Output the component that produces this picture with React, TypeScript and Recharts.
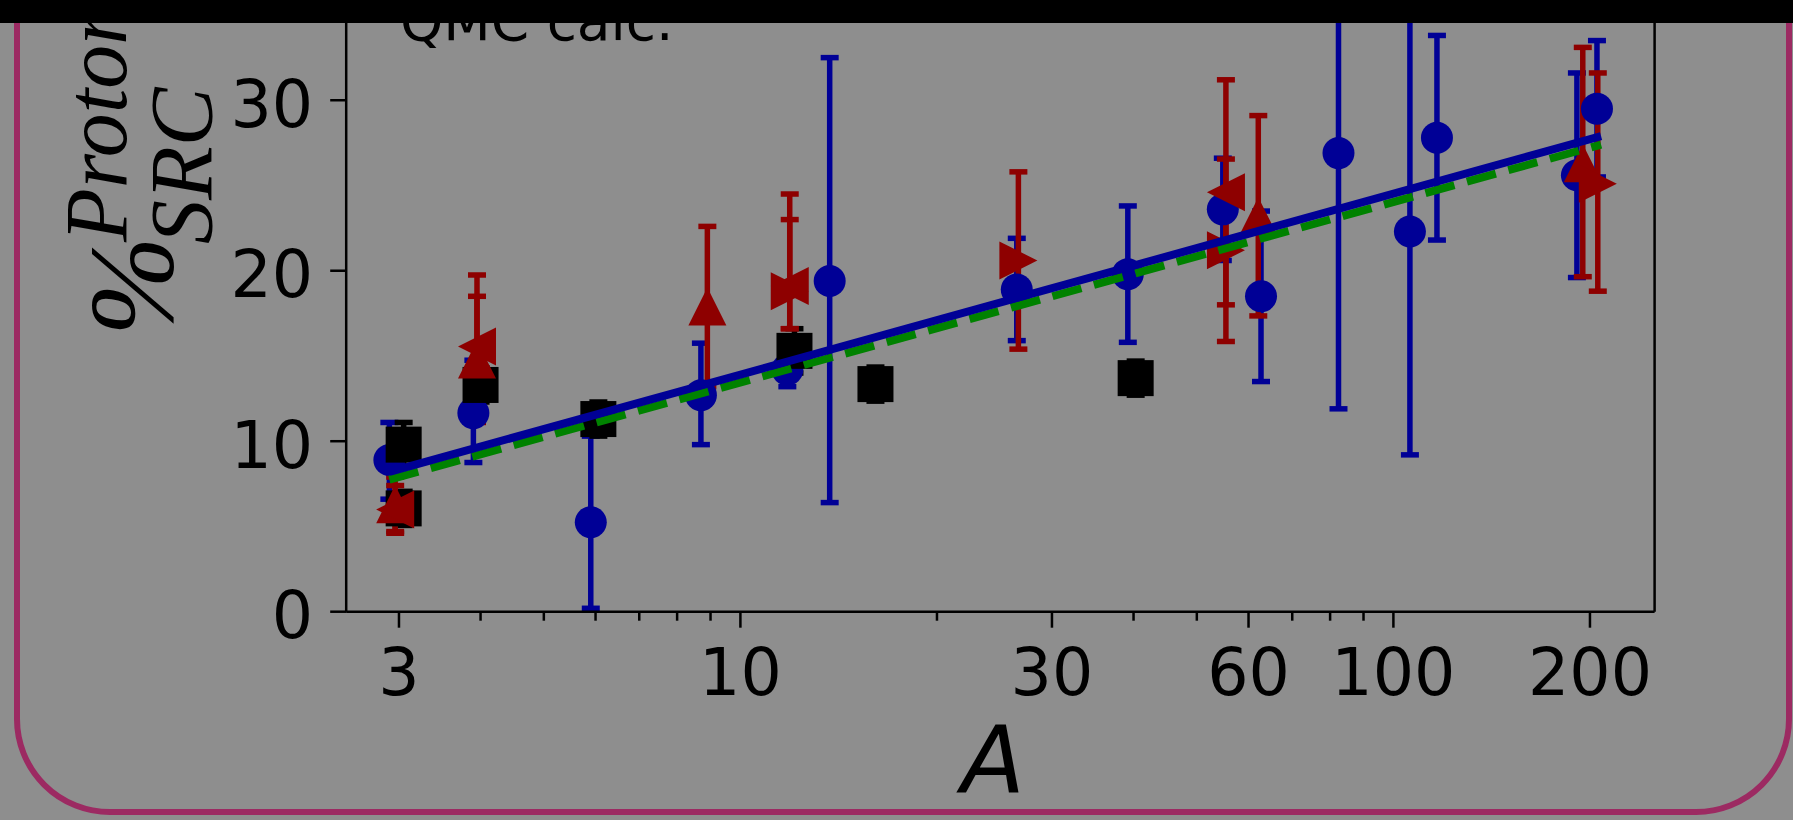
import React from "react";
import { ComposedChart, Scatter, XAxis, YAxis, ErrorBar, ReferenceLine } from "recharts";

// blue circles
const blueA = [2.9, 3.9, 5.9, 8.7, 11.8, 13.7, 26.5, 39.2, 54.8, 62.7, 82.4, 106, 116.6, 191, 205];
const blueY = [8.9, 11.65, 5.25, 12.7, 14.2, 19.4, 18.9, 19.8, 23.6, 18.5, 26.9, 22.3, 27.8, 25.6, 29.5];
const blueLo = [2.3, 2.9, 5.05, 2.9, 1.0, 13.0, 3.0, 4.0, 3.0, 5.0, 15.0, 13.1, 6.0, 6.0, 4.0];
const blueHi = [2.2, 3.1, 5.05, 3.05, 1.0, 13.1, 3.0, 4.0, 3.0, 5.0, 15.0, 13.1, 6.0, 6.0, 4.0];

// black squares
const blackA = [3.05, 3.05, 4.0, 6.06, 12.1, 16.1, 40.3];
const blackY = [9.8, 6.06, 13.3, 11.3, 15.3, 13.35, 13.7];
const blackErr = [1.3, 1.0, 1.0, 1.0, 1.3, 1.0, 1.0];

// red up triangles
const upA = [2.96, 3.95, 8.9, 62.1, 195];
const upY = [6.3, 14.8, 17.9, 23.2, 26.3];
const upLo = [1.6, 3.7, 4.7, 5.85, 6.65];
const upHi = [1.6, 3.7, 4.7, 5.9, 6.8];

// red left triangles
const leftA = [2.96, 3.95, 11.9, 55.4];
const leftY = [6.0, 15.55, 19.1, 24.6];
const leftLo = [1.4, 4.2, 2.5, 6.6];
const leftHi = [1.4, 4.2, 5.4, 6.6];

// red right triangles
const rightA = [11.9, 26.65, 55.4, 205.6];
const rightY = [18.8, 20.6, 21.2, 25.1];
const rightLo = [2.2, 5.2, 5.35, 6.3];
const rightHi = [4.2, 5.2, 5.35, 6.5];

// fits
const fitA = [2.9, 208];
const fitBlue = [8.2, 27.9];
const fitGreen = [7.75, 27.4];

const xTicks = [3, 4, 5, 6, 7, 8, 9, 10, 20, 30, 40, 50, 60, 70, 80, 90, 100, 200];
const xMajor = [3, 10, 30, 60, 100, 200];
const yTicks = [0, 10, 20, 30];

const BLUE = "#000096";
const RED = "#8e0000";
const GREEN = "#008200";
const BG = "#8e8e8e";
const FONT = "DejaVu Sans";

const pts = (a: number[], y: number[], lo: number[], hi: number[]) =>
  a.map((A, i) => ({ A, y: y[i], e: [lo[i], hi[i]] }));

const blueData = pts(blueA, blueY, blueLo, blueHi);
const blackData = pts(blackA, blackY, blackErr, blackErr);
const upData = pts(upA, upY, upLo, upHi);
const leftData = pts(leftA, leftY, leftLo, leftHi);
const rightData = pts(rightA, rightY, rightLo, rightHi);
const blueFit = fitA.map((A, i) => ({ A, y: fitBlue[i] }));
const greenFit = fitA.map((A, i) => ({ A, y: fitGreen[i] }));

const Dot = (p: any) => <circle cx={p.cx} cy={p.cy} r={16} fill={BLUE} />;
const Sq = (p: any) => <rect x={p.cx - 18} y={p.cy - 18} width={36} height={36} fill="#000" />;
const TriUp = (p: any) => (
  <polygon points={`${p.cx},${p.cy - 19} ${p.cx - 19},${p.cy + 19} ${p.cx + 19},${p.cy + 19}`} fill={RED} />
);
const TriLeft = (p: any) => (
  <polygon points={`${p.cx - 19},${p.cy} ${p.cx + 19},${p.cy - 19} ${p.cx + 19},${p.cy + 19}`} fill={RED} />
);
const TriRight = (p: any) => (
  <polygon points={`${p.cx + 19},${p.cy} ${p.cx - 19},${p.cy - 19} ${p.cx - 19},${p.cy + 19}`} fill={RED} />
);
const NoDot = () => <g />;

const XTick = ({ x, y, payload }: any) => {
  const major = xMajor.includes(payload.value);
  return (
    <g>
      <line x1={x} x2={x} y1={y} y2={y + (major ? 16 : 9)} stroke="#000" strokeWidth={2.5} />
      {major && (
        <text x={x} y={y + 83} textAnchor="middle" fontSize={65} fontFamily={FONT} fill="#000">
          {payload.value}
        </text>
      )}
    </g>
  );
};

const YTick = ({ x, y, payload }: any) => (
  <text x={x} y={y + 26.5} textAnchor="end" fontSize={65} fontFamily={FONT} fill="#000">
    {payload.value}
  </text>
);

export default function App() {
  const eb = (color: string) => (
    <ErrorBar dataKey="e" direction="y" width={9} strokeWidth={5.5} stroke={color} />
  );
  return (
    <div style={{ position: "absolute", left: 0, top: 0, width: 1793, height: 820, background: BG, overflow: "hidden" }}>
      <div
        style={{
          position: "absolute",
          left: 14,
          top: -100,
          width: 1778,
          height: 915,
          boxSizing: "border-box",
          border: "6px solid #9c2a62",
          borderRadius: 96,
        }}
      />
      <div style={{ position: "absolute", left: 0, top: 0 }}>
        <ComposedChart width={1793} height={820} margin={{ top: 15, right: 138.4, bottom: 88.3, left: 246.2 }}>
          <XAxis
            dataKey="A"
            type="number"
            scale="log"
            domain={[2.4906, 251.2]}
            allowDataOverflow
            ticks={xTicks}
            interval={0}
            height={120}
            tickSize={0}
            tickMargin={0}
            tickLine={false}
            tick={<XTick />}
            axisLine={{ stroke: "#000", strokeWidth: 2.5 }}
          />
          <YAxis
            type="number"
            domain={[0, 35]}
            allowDataOverflow
            ticks={yTicks}
            width={100}
            tickSize={16}
            tickMargin={17}
            tick={<YTick />}
            tickLine={{ stroke: "#000", strokeWidth: 2.5 }}
            axisLine={{ stroke: "#000", strokeWidth: 2.5 }}
          />
          <ReferenceLine x={251.2} stroke="#000" strokeWidth={2.5} ifOverflow="visible" />
          <Scatter data={blueData} dataKey="y" shape={<Dot />} isAnimationActive={false}>
            {eb(BLUE)}
          </Scatter>
          <Scatter data={blackData} dataKey="y" shape={<Sq />} isAnimationActive={false}>
            {eb("#000")}
          </Scatter>
          <Scatter data={upData} dataKey="y" shape={<TriUp />} isAnimationActive={false}>
            {eb(RED)}
          </Scatter>
          <Scatter data={leftData} dataKey="y" shape={<TriLeft />} isAnimationActive={false}>
            {eb(RED)}
          </Scatter>
          <Scatter data={rightData} dataKey="y" shape={<TriRight />} isAnimationActive={false}>
            {eb(RED)}
          </Scatter>
          <Scatter
            data={greenFit}
            dataKey="y"
            shape={<NoDot />}
            line={{ stroke: GREEN, strokeWidth: 8, strokeDasharray: "30 13" }}
            isAnimationActive={false}
          />
          <Scatter
            data={blueFit}
            dataKey="y"
            shape={<NoDot />}
            line={{ stroke: BLUE, strokeWidth: 8 }}
            isAnimationActive={false}
          />
        </ComposedChart>
      </div>
      <svg width={1793} height={820} style={{ position: "absolute", left: 0, top: 0, pointerEvents: "none" }}>
        <text x={400} y={40} fontSize={55} fontFamily={FONT} fill="#000">
          QMC calc.
        </text>
        <text x={993} y={792} fontSize={93} fontFamily={FONT} fontStyle="italic" textAnchor="middle" fill="#000">
          A
        </text>
        <g fontFamily="Liberation Serif" fontStyle="italic" fill="#000">
          <text transform="translate(172,336) rotate(-90)" fontSize={120}>%</text>
          <text transform="translate(126,242) rotate(-90)" fontSize={88}>Proton</text>
          <text transform="translate(211,244) rotate(-90)" fontSize={88}>SRC</text>
        </g>
      </svg>
      <div style={{ position: "absolute", left: 0, top: 0, width: 1793, height: 23, background: "#000" }} />
    </div>
  );
}
